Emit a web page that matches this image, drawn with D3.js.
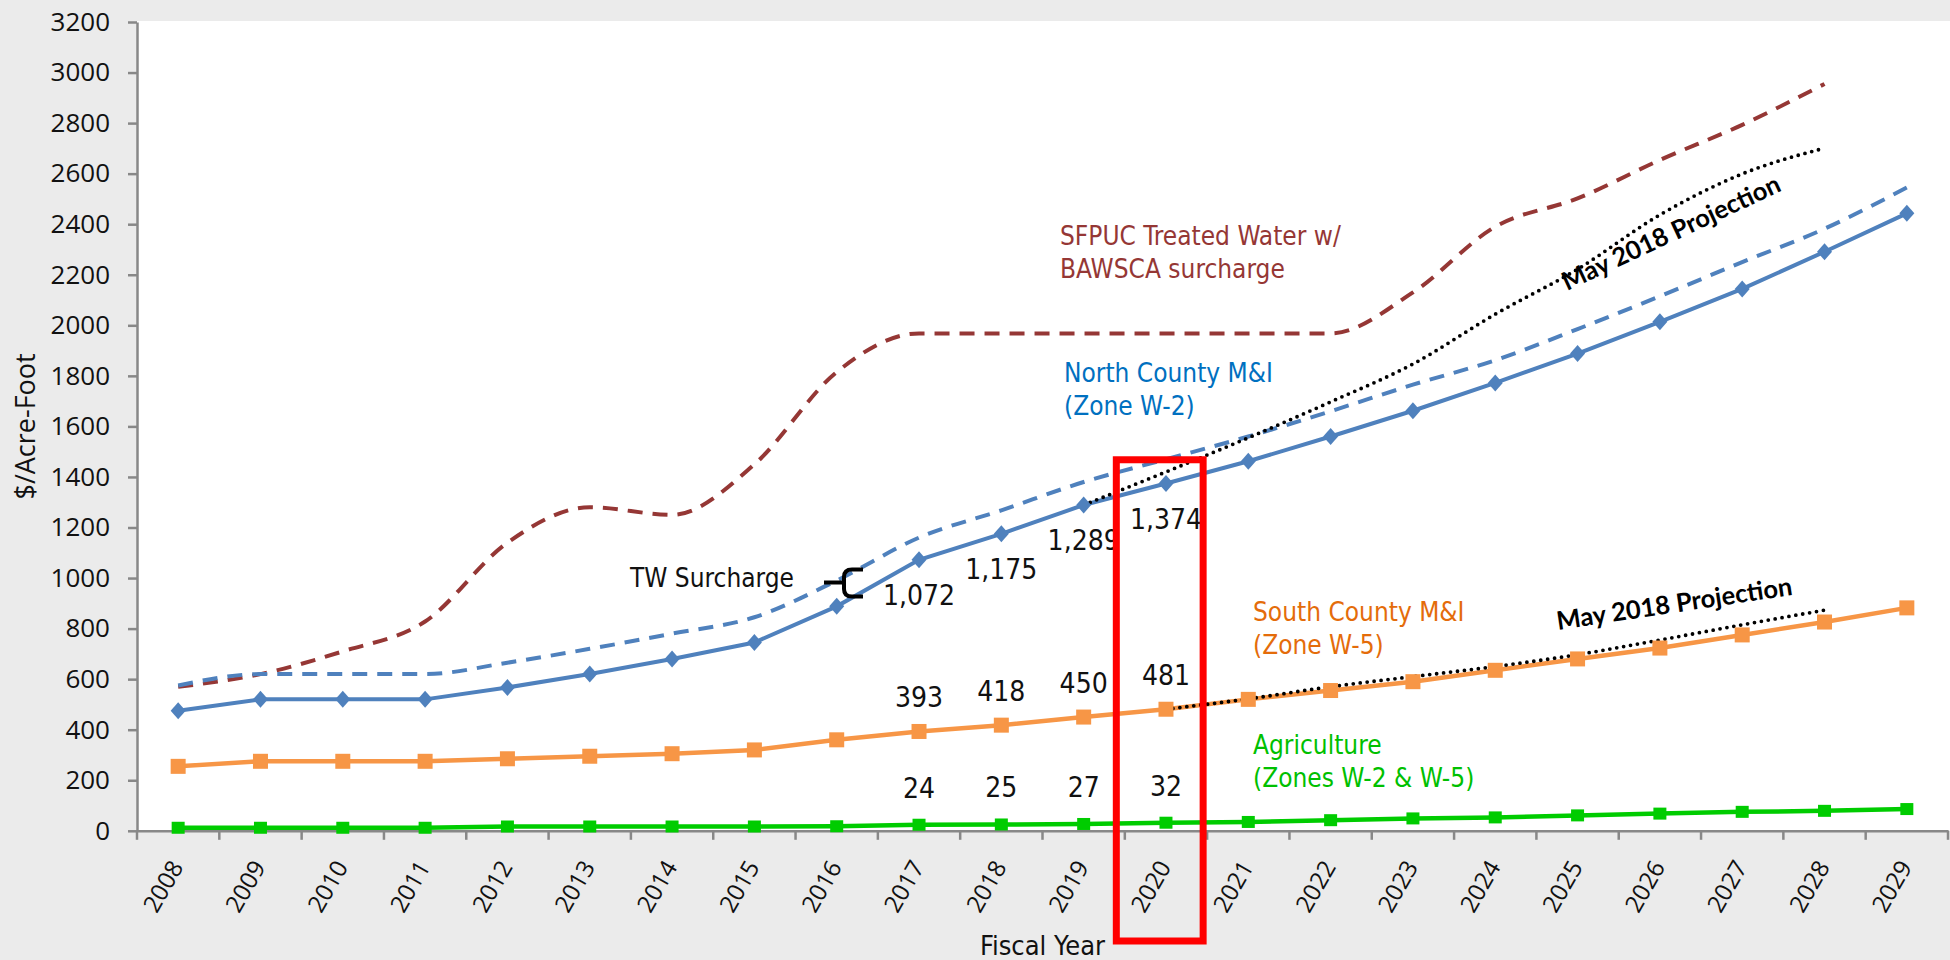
<!DOCTYPE html>
<html>
<head>
<meta charset="utf-8">
<script src="https://cdnjs.cloudflare.com/ajax/libs/d3/7.8.5/d3.min.js"></script>
<style>
	body { margin: 0; background: #ebebeb; }
	.narrow { font-family: "DejaVu Sans Condensed", "Liberation Sans Narrow", sans-serif; font-stretch: condensed; }
	.axis text { font-family: "Open Sans", "Noto Sans", sans-serif; fill: #111; }
</style>
</head>
<body>
<svg id="chart" width="1950" height="960"></svg>
<script>
var years = ['2008','2009','2010','2011','2012','2013','2014','2015','2016','2017','2018',
	'2019','2020','2021','2022','2023','2024','2025','2026','2027','2028','2029'];
var yTicks = [0,200,400,600,800,1000,1200,1400,1600,1800,2000,2200,2400,2600,2800,3000,3200];

// rates in $/acre-foot
var sfpuc     = [570,620,710,828,1140,1280,1250,1450,1815,1968,1968,1968,1968,1968,1968,2130,2390,2502,2654,2793,2955];
var northTW   = [575,620,620,620,665,720,780,845,990,1160,1268,1380,1470,1560,1660,1765,1862,1985,2115,2250,2382,2545];
var northMI   = [475,520,520,520,567,620,680,745,888,1072,1175,1289,1374,1462,1560,1662,1772,1888,2014,2144,2291,2443];
var southMI   = [255,275,275,275,285,295,305,320,360,393,418,450,481,520,555,590,635,680,723,775,826,882];
var agri      = [12,12,12,12,17,17,17,17,18,24,25,27,32,35,42,49,53,61,68,75,79,86];
var projYearsN = ['2019','2020','2021','2022','2023','2024','2025','2026','2027','2028'];
var northProj  = [1289,1420,1555,1697,1847,2044,2222,2437,2599,2701];
var projYearsS = ['2020','2021','2022','2023','2024','2025','2026','2027','2028'];
var southProj  = [481,522,570,610,650,697,755,815,873];
var labelYears = ['2017','2018','2019','2020'];

var svg = d3.select('#chart');
var pLeft = 137, pRight = 1948, pTop = 22, pBottom = 830.8;

var x = d3.scaleBand().domain(years).range([pLeft, pRight]).padding(0);
var y = d3.scaleLinear().domain([0, 3200]).range([pBottom, pTop]);
var cx = function(yr){ return x(yr) + x.bandwidth()/2; };

svg.append('rect').attr('width', 1950).attr('height', 960).attr('fill', '#ebebeb');
svg.append('rect').attr('x', pLeft).attr('y', pTop - 1).attr('width', 1950 - pLeft).attr('height', pBottom - pTop + 1).attr('fill', '#fff');

// axes
var yAxis = svg.append('g').attr('class', 'axis')
	.attr('transform', 'translate(' + pLeft + ',0)')
	.call(d3.axisLeft(y).tickValues(yTicks).tickSize(9).tickSizeOuter(0).tickPadding(18).tickFormat(d3.format('d')));
yAxis.selectAll('text').style('font-size', '26px');

var xAxis = svg.append('g').attr('class', 'axis')
	.attr('transform', 'translate(0,' + pBottom + ')')
	.call(d3.axisBottom(x).tickSize(0).tickSizeOuter(0));
xAxis.selectAll('text')
	.style('font-size', '24px')
	.attr('y', 0).attr('dy', 0)
	.attr('text-anchor', 'end')
	.attr('transform', 'translate(6,36) rotate(-60)');
xAxis.selectAll('.tickb')
	.data(years.map(function(d){ return x(d); }).concat([pRight]))
	.enter().append('line')
	.attr('x1', function(d){ return d; }).attr('x2', function(d){ return d; })
	.attr('y1', 0).attr('y2', 9);
svg.selectAll('.axis path, .axis line').attr('stroke', '#888').attr('stroke-width', 2.5);

// lines
function lineOf(yrs, curve){
	return d3.line()
		.x(function(d, i){ return cx(yrs[i]); })
		.y(function(d){ return y(d); })
		.curve(curve || d3.curveLinear);
}
svg.append('path').datum(sfpuc).attr('d', lineOf(years, d3.curveMonotoneX))
	.attr('fill', 'none').attr('stroke', '#953735').attr('stroke-width', 4).attr('stroke-dasharray', '15,10');
svg.append('path').datum(northTW).attr('d', lineOf(years, d3.curveMonotoneX))
	.attr('fill', 'none').attr('stroke', '#4f81bd').attr('stroke-width', 4).attr('stroke-dasharray', '15,10');

function solid(data, color, width){
	svg.append('path').datum(data).attr('d', lineOf(years))
		.attr('fill', 'none').attr('stroke', color).attr('stroke-width', width);
}
solid(northMI, '#4f81bd', 4);
solid(southMI, '#f79646', 4.5);
solid(agri, '#00cc00', 4.5);

function dotted(yrs, data){
	svg.append('path').datum(data).attr('d', lineOf(yrs, d3.curveMonotoneX))
		.attr('fill', 'none').attr('stroke', '#000').attr('stroke-width', 3.8)
		.attr('stroke-linecap', 'round').attr('stroke-dasharray', '0,7');
}
dotted(projYearsN, northProj);
dotted(projYearsS, southProj);

// markers
svg.selectAll('.dia').data(northMI).enter().append('path')
	.attr('d', 'M0,-8.5L7.5,0L0,8.5L-7.5,0Z')
	.attr('transform', function(d, i){ return 'translate(' + cx(years[i]) + ',' + y(d) + ')'; })
	.attr('fill', '#4f81bd');
svg.selectAll('.sqo').data(southMI).enter().append('rect')
	.attr('x', function(d, i){ return cx(years[i]) - 7.5; }).attr('y', function(d){ return y(d) - 7.5; })
	.attr('width', 15).attr('height', 15).attr('fill', '#f79646');
svg.selectAll('.sqg').data(agri).enter().append('rect')
	.attr('x', function(d, i){ return cx(years[i]) - 6.5; }).attr('y', function(d){ return y(d) - 6; })
	.attr('width', 13).attr('height', 12).attr('fill', '#00cc00');

// value labels
function valueLabels(data, dy){
	svg.selectAll(null).data(labelYears).enter().append('text')
		.attr('class', 'narrow')
		.attr('x', function(d){ return cx(d); })
		.attr('y', function(d){ return y(data[years.indexOf(d)]) + dy; })
		.attr('text-anchor', 'middle')
		.style('font-size', '28px').attr('fill', '#111')
		.text(function(d){ return d3.format(',')(data[years.indexOf(d)]); });
}
valueLabels(northMI, 45);
valueLabels(southMI, -24);
valueLabels(agri, -27);

// annotations
function note(lines, xPos, yPos, color){
	var t = svg.append('text').attr('class', 'narrow').style('font-size', '26px').attr('fill', color);
	lines.forEach(function(s, i){
		t.append('tspan').attr('x', xPos).attr('y', yPos + i * 33).text(s);
	});
}
note(['SFPUC Treated Water w/', 'BAWSCA surcharge'], 1060, 245, '#953735');
note(['North County M&I', '(Zone W-2)'], 1064, 382, '#0070c0');
note(['South County M&I', '(Zone W-5)'], 1253, 621, '#e46c0a');
note(['Agriculture', '(Zones W-2 & W-5)'], 1253, 754, '#00c000');
note(['TW Surcharge'], 630, 587, '#111');

svg.append('text').attr('transform', 'translate(1567,291) rotate(-25)')
	.style('font-family', 'Lato, "Open Sans", sans-serif').style('font-weight', 'bold').style('font-size', '25.5px')
	.text('May 2018 Projection');
svg.append('text').attr('transform', 'translate(1558,630) rotate(-8.5)')
	.style('font-family', 'Lato, "Open Sans", sans-serif').style('font-weight', 'bold').style('font-size', '25.5px')
	.text('May 2018 Projection');

// brace for TW surcharge
svg.append('path')
	.attr('d', 'M824,582.5 L842,582.5 M863,569.5 L852,569.5 Q844,569.5 844,577 L844,589 Q844,596.5 852,596.5 L863,596.5')
	.attr('fill', 'none').attr('stroke', '#000').attr('stroke-width', 4);

// highlight box on FY2020
svg.append('rect')
	.attr('x', x('2020') - 8.5).attr('y', y(1468))
	.attr('width', x.bandwidth() + 4.5).attr('height', 941 - y(1468))
	.attr('fill', 'none').attr('stroke', '#ff0000').attr('stroke-width', 7);

// axis titles
svg.append('text').attr('class', 'narrow')
	.attr('x', (pLeft + pRight) / 2).attr('y', 955).attr('text-anchor', 'middle')
	.style('font-size', '27px').attr('fill', '#111').text('Fiscal Year');
svg.append('text')
	.attr('transform', 'translate(35,' + ((pTop + pBottom) / 2) + ') rotate(-90)')
	.attr('text-anchor', 'middle')
	.style('font-family', '"Open Sans", sans-serif').style('font-size', '27px').attr('fill', '#111')
	.text('$/Acre-Foot');
</script>
</body>
</html>
